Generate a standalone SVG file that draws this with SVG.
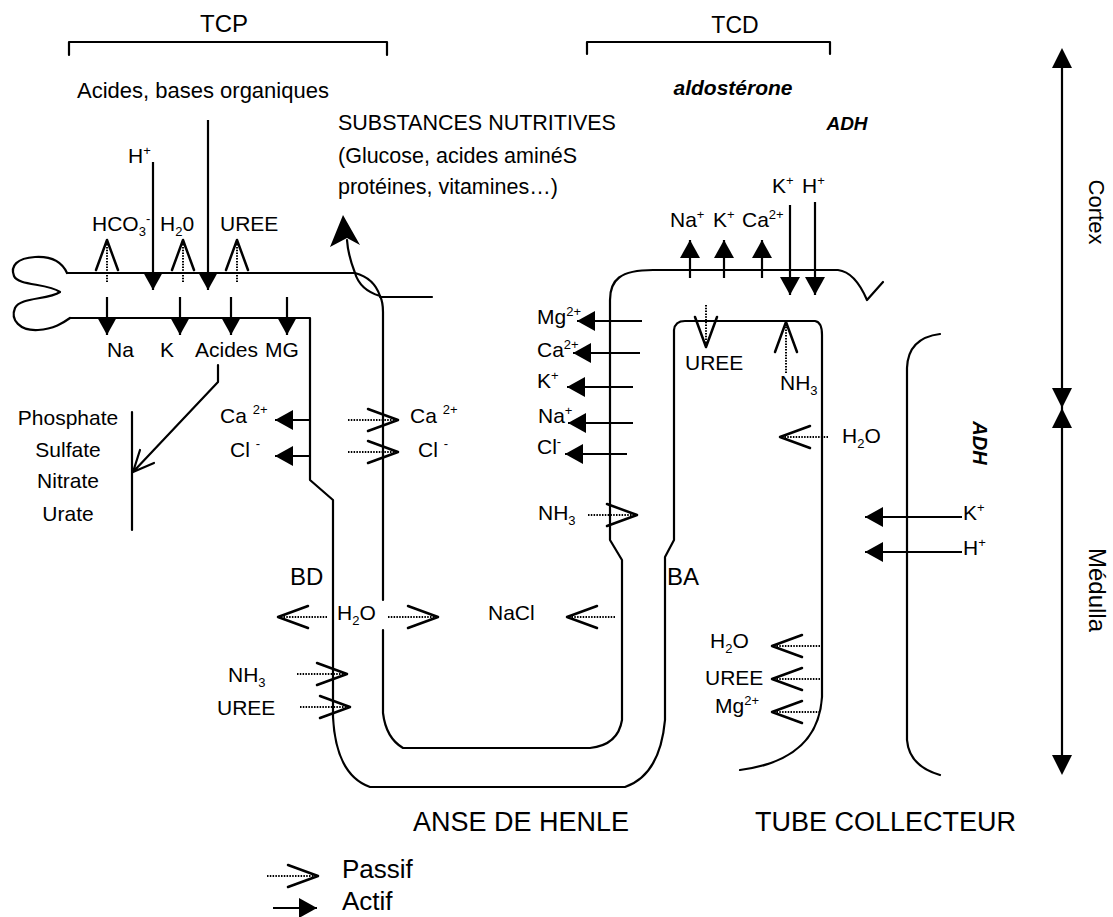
<svg xmlns="http://www.w3.org/2000/svg" width="1113" height="917" viewBox="0 0 1113 917">
<style>
text{font-family:"Liberation Sans",Arial,sans-serif;font-size:21px;fill:#000}
.big{font-size:27px}
.leg{font-size:26px}
.bi{font-weight:bold;font-style:italic}
.sp{font-size:13px}
.wall{fill:none;stroke:#000;stroke-width:2.2;stroke-linejoin:round;stroke-linecap:round}
.act{fill:none;stroke:#000;stroke-width:2.2;marker-end:url(#act)}
.pas{fill:none;stroke:#000;stroke-width:2;stroke-dasharray:1.5 1.3;marker-end:url(#pas)}
.head{fill:#000}
</style>
<defs>
<marker id="act" viewBox="0 0 20 20" markerWidth="20" markerHeight="20" refX="18" refY="10" orient="auto" markerUnits="userSpaceOnUse"><path d="M0,0 L18,10 L0,20 Z" fill="#000"/></marker>
<marker id="pas" viewBox="0 0 34 26" markerWidth="34" markerHeight="26" refX="31" refY="13" orient="auto" markerUnits="userSpaceOnUse" overflow="visible"><path d="M1,2 L31,13 L1,24" fill="none" stroke="#000" stroke-width="2.5" stroke-linejoin="round" stroke-linecap="round"/></marker>
</defs>
<rect width="1113" height="917" fill="#fff"/>

<g id="brackets">
<path class="wall" d="M69,55 L69,42 L387,42 L387,55"/>
<path class="wall" d="M587,54 L587,42 L830,42 L830,54"/>
<text x="224" y="32" text-anchor="middle" style="font-size:24px">TCP</text>
<text x="735" y="33" text-anchor="middle" style="font-size:23px">TCD</text>
</g>

<g id="tubule">
<path class="wall" d="M67,273 C62,262 52,256 35,257 C17,258 10,266 14,276 C18,286 48,283 60,292 C48,300 20,297 15,308 C10,320 20,331 38,330 C54,329 63,323 70,318"/>
<path class="wall" d="M67,273 L355,273 Q374,278 380,296 Q383,302 383,312 L383,600"/>
<path class="wall" d="M383,630 L383,713 Q386,738 403,748 L590,748 Q618,745 622,720 L622,560 L610,540 L610,300 C610,280 620,270 653,270 L838,270 Q855,272 867,300 L883,282"/>
<path class="wall" d="M380,297 L432,297"/>
<path class="wall" d="M70,318 L310,318 L310,480 L333,500 L333,717 Q336,775 370,787 L625,787 Q660,775 665,720 L665,557 L674,540 L674,330 Q675,321 685,321 L815,321 Q822,322 822,335 L822,697 Q818,760 740,770"/>
<path class="wall" d="M940,334 Q908,338 907,368 L907,740 Q909,766 940,775"/>
</g>

<g id="axis">
<path class="wall" d="M1062,66 L1062,757"/>
<polygon class="head" points="1052,68 1072,68 1062,48"/>
<polygon class="head" points="1052,388 1072,388 1062,408"/>
<polygon class="head" points="1052,428 1072,428 1062,408"/>
<polygon class="head" points="1052,755 1072,755 1062,775"/>
<text transform="translate(1089,212) rotate(90)" text-anchor="middle" style="font-size:22px">Cortex</text>
<text transform="translate(1089,590) rotate(90)" text-anchor="middle" style="font-size:24px">Médulla</text>
</g>

<g id="connectors">
<path class="act" d="M153,162 L153,290"/>
<path class="act" d="M208,120 L208,290"/>
<path class="act" d="M107,297 L107,335"/>
<path class="act" d="M180,297 L180,335"/>
<path class="act" d="M231,297 L231,335"/>
<path class="act" d="M287,297 L287,335"/>
<path class="act" d="M310,420 L275,420"/>
<path class="act" d="M310,456 L275,456"/>
<path class="act" d="M642,321 L577,321"/>
<path class="act" d="M640,353 L573,353"/>
<path class="act" d="M633,387 L567,387"/>
<path class="act" d="M633,423 L568,423"/>
<path class="act" d="M627,454 L565,454"/>
<path class="act" d="M690,278 L690,240"/>
<path class="act" d="M724,278 L724,240"/>
<path class="act" d="M762,278 L762,240"/>
<path class="act" d="M790,205 L790,295"/>
<path class="act" d="M815,202 L815,295"/>
<path class="act" d="M962,517 L865,517"/>
<path class="act" d="M962,552 L865,552"/>

<path class="pas" d="M107,282 L107,240"/>
<path class="pas" d="M183,282 L183,240"/>
<path class="pas" d="M237,282 L237,240"/>
<path class="pas" d="M348,420 L398,420"/>
<path class="pas" d="M348,452 L398,452"/>
<path class="pas" d="M588,515 L637,515"/>
<path class="pas" d="M706,305 L706,347"/>
<path class="pas" d="M786,373 L786,322"/>
<path class="pas" d="M828,437 L780,437"/>
<path class="pas" d="M327,617 L278,617"/>
<path class="pas" d="M388,617 L438,617"/>
<path class="pas" d="M615,617 L567,617"/>
<path class="pas" d="M297,674 L347,674"/>
<path class="pas" d="M300,707 L350,707"/>
<path class="pas" d="M820,646 L772,646"/>
<path class="pas" d="M820,679 L772,679"/>
<path class="pas" d="M820,712 L772,712"/>

<path class="wall" d="M218,365 L218,382 L133,472 M140,450 L133,472 L154,463"/>
<path class="wall" d="M132,412 L132,530"/>
<path class="wall" d="M380,296 Q360,290 355,273 Q348,255 347,240"/>
<polygon class="head" points="343,215 360,245 347,238 330,247"/>
</g>

<g id="labels-top">
<text x="77" y="98" style="font-size:22px">Acides, bases organiques</text>
<text x="338" y="130" style="font-size:21.5px">SUBSTANCES NUTRITIVES</text>
<text x="338" y="163" style="font-size:21.5px">(Glucose, acides aminéS</text>
<text x="338" y="194" style="font-size:21.5px">protéines, vitamines…)</text>
<text x="733" y="95" text-anchor="middle" class="bi" style="font-size:21px">aldostérone</text>
<text x="847" y="130" text-anchor="middle" class="bi" style="font-size:19px">ADH</text>
</g>

<g id="labels-tcp">
<text x="128" y="163">H<tspan class="sp" dy="-8">+</tspan></text>
<text x="92" y="231">HCO<tspan class="sp" dy="5">3</tspan><tspan class="sp" dy="-13">-</tspan></text>
<text x="160" y="231">H<tspan class="sp" dy="5">2</tspan><tspan dy="-5">0</tspan></text>
<text x="220" y="231">UREE</text>
<text x="107" y="357">Na</text>
<text x="160" y="357">K</text>
<text x="195" y="357">Acides</text>
<text x="265" y="357">MG</text>
<text x="68" y="425" text-anchor="middle">Phosphate</text>
<text x="68" y="457" text-anchor="middle">Sulfate</text>
<text x="68" y="488" text-anchor="middle">Nitrate</text>
<text x="68" y="521" text-anchor="middle">Urate</text>
<text x="220" y="423">Ca <tspan class="sp" dy="-9">2+</tspan></text>
<text x="230" y="457">Cl <tspan class="sp" dy="-9">-</tspan></text>
<text x="410" y="423">Ca <tspan class="sp" dy="-9">2+</tspan></text>
<text x="418" y="457">Cl <tspan class="sp" dy="-9">-</tspan></text>
</g>

<g id="labels-tcd">
<text x="537" y="324">Mg<tspan class="sp" dy="-8">2+</tspan></text>
<text x="537" y="357">Ca<tspan class="sp" dy="-8">2+</tspan></text>
<text x="537" y="388">K<tspan class="sp" dy="-8">+</tspan></text>
<text x="538" y="423">Na<tspan class="sp" dy="-8">+</tspan></text>
<text x="537" y="454">Cl<tspan class="sp" dy="-8">-</tspan></text>
<text x="538" y="520">NH<tspan class="sp" dy="5">3</tspan></text>
<text x="670" y="227">Na<tspan class="sp" dy="-8">+</tspan></text>
<text x="713" y="227">K<tspan class="sp" dy="-8">+</tspan></text>
<text x="742" y="227">Ca<tspan class="sp" dy="-8">2+</tspan></text>
<text x="772" y="193">K<tspan class="sp" dy="-8">+</tspan></text>
<text x="802" y="193">H<tspan class="sp" dy="-8">+</tspan></text>
<text x="685" y="370">UREE</text>
<text x="780" y="390">NH<tspan class="sp" dy="5">3</tspan></text>
</g>

<g id="labels-collecteur">
<text x="842" y="443">H<tspan class="sp" dy="5">2</tspan><tspan dy="-5">O</tspan></text>
<text transform="translate(973,443) rotate(90)" text-anchor="middle" class="bi" style="font-size:20px">ADH</text>
<text x="963" y="520">K<tspan class="sp" dy="-8">+</tspan></text>
<text x="963" y="555">H<tspan class="sp" dy="-8">+</tspan></text>
<text x="710" y="648">H<tspan class="sp" dy="5">2</tspan><tspan dy="-5">O</tspan></text>
<text x="705" y="685">UREE</text>
<text x="715" y="713">Mg<tspan class="sp" dy="-8">2+</tspan></text>
</g>

<g id="labels-anse">
<text x="290" y="585" style="font-size:24px">BD</text>
<text x="667" y="585" style="font-size:24px">BA</text>
<text x="337" y="620">H<tspan class="sp" dy="5">2</tspan><tspan dy="-5">O</tspan></text>
<text x="488" y="620">NaCl</text>
<text x="228" y="682">NH<tspan class="sp" dy="5">3</tspan></text>
<text x="217" y="715">UREE</text>
<text x="413" y="831" class="big">ANSE DE HENLE</text>
<text x="755" y="831" class="big">TUBE COLLECTEUR</text>
</g>

<g id="legend">
<path class="pas" d="M267,876 L318,876"/>
<path class="act" d="M273,908 L317,908"/>
<text x="342" y="878" class="leg">Passif</text>
<text x="342" y="910" class="leg">Actif</text>
</g>
</svg>
